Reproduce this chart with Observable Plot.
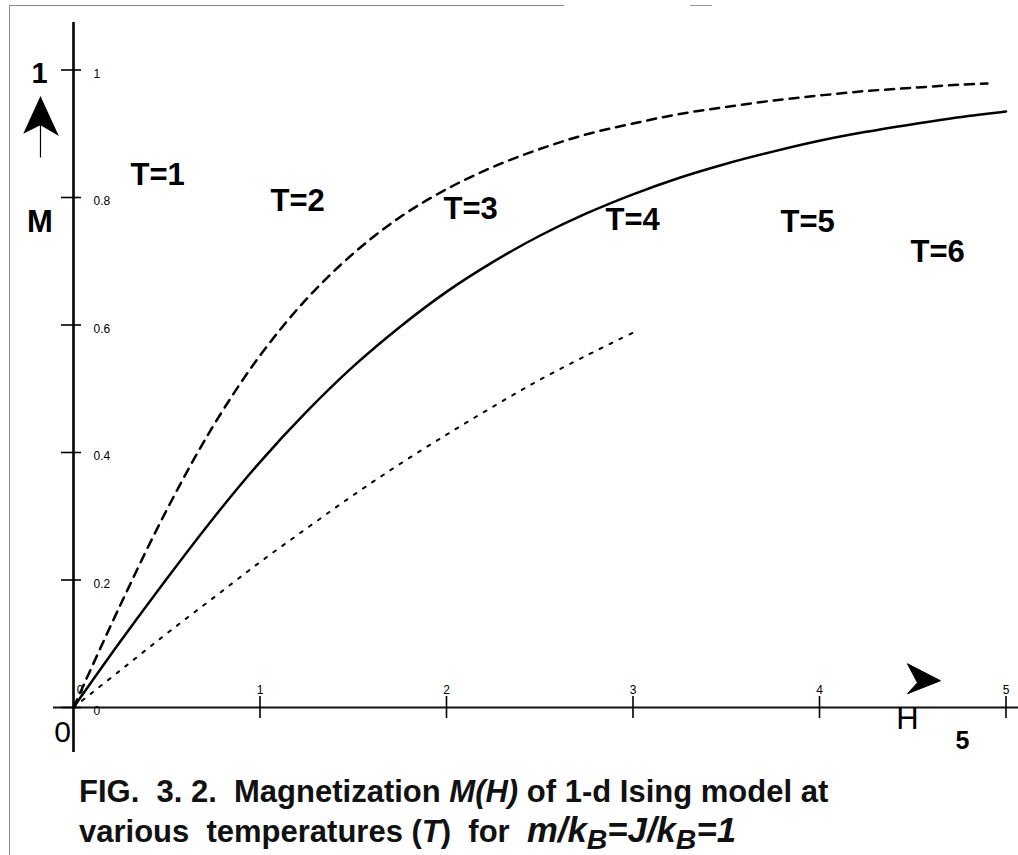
<!DOCTYPE html>
<html><head><meta charset="utf-8">
<script src="https://cdn.jsdelivr.net/npm/d3@7"></script>
<script src="https://cdn.jsdelivr.net/npm/@observablehq/plot@0.6"></script>
<style>
body{margin:0;background:#fff;width:1018px;height:855px;position:relative;overflow:hidden;font-family:"Liberation Sans",Arial,sans-serif;}
#chart{position:absolute;left:0;top:0;}
#caption{position:absolute;left:79px;top:772px;font-size:31px;font-weight:bold;line-height:39px;white-space:pre;color:#111;}
#caption .math{font-size:1.12em;}
#caption sub{font-size:0.82em;vertical-align:-0.25em;line-height:0;}
.bl{position:absolute;left:9px;top:5px;width:0;height:850px;border-left:1.5px solid #888;}
.bt{position:absolute;left:9px;top:5px;width:555px;height:0;border-top:1.5px solid #888;}
.bt2{position:absolute;left:690px;top:5px;width:22px;height:0;border-top:1.5px solid #999;}
</style></head><body>
<div class="bl"></div><div class="bt"></div><div class="bt2"></div>
<div id="chart"></div>
<div id="caption">FIG.  3. 2.  Magnetization <i>M(H)</i> of 1-d Ising model at
various  temperatures (<i>T</i>)  for  <i class="math">m/k<sub>B</sub>=J/k<sub>B</sub>=1</i></div>
<script>
// ---- data ----
const hT3 = [0,0.25,0.5,0.75,1,1.25,1.5,1.75,2,2.25,2.5,2.75,3,3.25,3.5,3.75,4,4.25,4.5,4.75,4.9];
const mT3 = [0,0.160,0.310,0.442,0.552,0.641,0.712,0.769,0.813,0.848,0.876,0.899,0.916,0.931,0.942,0.952,0.960,0.967,0.972,0.977,0.979];
const hT4 = [0,0.25,0.5,0.75,1,1.25,1.5,1.75,2,2.25,2.5,2.75,3,3.25,3.5,3.75,4,4.25,4.5,4.75,5];
const mT4 = [0,0.103,0.202,0.297,0.385,0.464,0.535,0.597,0.652,0.699,0.740,0.775,0.805,0.831,0.853,0.872,0.889,0.903,0.915,0.926,0.935];
const hT6 = [0,0.25,0.5,0.75,1,1.25,1.5,1.75,2,2.25,2.5,2.75,3];
const mT6 = [0,0.058,0.116,0.172,0.228,0.281,0.333,0.382,0.428,0.472,0.514,0.552,0.588];

const tempLabels = ["T=1","T=2","T=3","T=4","T=5","T=6"];
const tempLabelH = [0.306,1.056,1.984,2.853,3.791,4.488];
const tempLabelM = [0.835,0.795,0.782,0.764,0.762,0.715];

const xTicks = [1,2,3,4,5];
const xTickLabels = ["0","1","2","3","4","5"];
const xTickLabelH = [0.035,1,2,3,4,5];
const yTicks = [0,0.2,0.4,0.6,0.8,1];
const yTickLabels = ["0","0.2","0.4","0.6","0.8","1"];

const axisNotes = ["1","M","0","H","5"];
const axisNoteH = [-0.182,-0.180,-0.059,4.472,4.767];
const axisNoteM = [0.994,0.762,-0.039,-0.018,-0.053];
const axisNoteSize = [29,31,30,31,25];
const axisNoteBold = [true,true,false,false,true];

const arrowUpPos = [{H:-0.177, M:0.924}];
const arrowRightPos = [{H:4.552, M:0.042}];

// ---- tables built from the arrays ----
const toRows = (hs, ms) => hs.map((h, i) => ({H: h, M: ms[i]}));
const rowsT3 = toRows(hT3, mT3), rowsT4 = toRows(hT4, mT4), rowsT6 = toRows(hT6, mT6);
const tempRows = tempLabels.map((t, i) => ({t, H: tempLabelH[i], M: tempLabelM[i]}));
const noteRows = axisNotes.map((t, i) => ({t, H: axisNoteH[i], M: axisNoteM[i], s: axisNoteSize[i], b: axisNoteBold[i]}));
const xLabRows = xTickLabels.map((t, i) => ({t, H: xTickLabelH[i]}));
const yLabRows = yTickLabels.map((t, i) => ({t, M: yTicks[i]}));

const arrowUp = {draw(ctx) {
  ctx.moveTo(0,-21); ctx.lineTo(17,16); ctx.lineTo(0,6); ctx.lineTo(-16,14); ctx.closePath();
  ctx.moveTo(0,6); ctx.lineTo(0,39);
}};
const arrowRight = {draw(ctx) {
  ctx.moveTo(18,0); ctx.lineTo(-15,13); ctx.lineTo(-5,2); ctx.lineTo(-15,-17); ctx.closePath();
}};

const font = "'Liberation Sans', Arial, Helvetica, sans-serif";

const chart = Plot.plot({
  width: 1018, height: 770,
  marginLeft: 73, marginRight: 12.5, marginTop: 69.5, marginBottom: 63,
  x: {domain: [0, 5], axis: null, label: null},
  y: {domain: [0, 1], axis: null, label: null},
  style: {background: "transparent", fontFamily: font, color: "#000", overflow: "visible"},
  marks: [
    Plot.ruleY([0], {insetLeft: -20, insetRight: -12.5, stroke: "#111", strokeWidth: 1.8}),
    Plot.ruleX([0], {insetTop: -47.5, insetBottom: -45, stroke: "#000", strokeWidth: 2.6}),
    Plot.axisX({ticks: xTicks, tickSize: 22, dy: -11, tickFormat: () => "", label: null, stroke: "#000", strokeWidth: 1.6}),
    Plot.axisY({ticks: yTicks, tickSize: 20, dx: 8, tickFormat: () => "", label: null, stroke: "#000", strokeWidth: 1.6}),
    Plot.text(xLabRows, {x: "H", y: () => 0, text: "t", dy: -17, fontSize: 12, fill: "#000"}),
    Plot.text(yLabRows, {x: () => 0, y: "M", text: "t", dx: 20, dy: 4, textAnchor: "start", fontSize: 12, fill: "#000"}),
    Plot.line(rowsT3, {x: "H", y: "M", curve: "catmull-rom", stroke: "#000", strokeWidth: 2.5, strokeDasharray: "9,7"}),
    Plot.line(rowsT4, {x: "H", y: "M", curve: "catmull-rom", stroke: "#000", strokeWidth: 2.5}),
    Plot.line(rowsT6, {x: "H", y: "M", curve: "catmull-rom", stroke: "#000", strokeWidth: 2, strokeDasharray: "3,8"}),
    Plot.text(tempRows, {x: "H", y: "M", text: "t", textAnchor: "start", fontSize: 31, fontWeight: "bold", fill: "#000"}),
    Plot.text(noteRows.filter(d => d.b), {x: "H", y: "M", text: "t", fontSize: "s", fontWeight: "bold", fill: "#000"}),
    Plot.text(noteRows.filter(d => !d.b), {x: "H", y: "M", text: "t", fontSize: "s", fill: "#000"}),
    Plot.dot(arrowUpPos, {x: "H", y: "M", symbol: arrowUp, fill: "#000", stroke: "#000", strokeWidth: 1.2}),
    Plot.dot(arrowRightPos, {x: "H", y: "M", symbol: arrowRight, fill: "#000", stroke: "#000", strokeWidth: 1})
  ]
});
document.getElementById("chart").appendChild(chart);
</script>
</body></html>
